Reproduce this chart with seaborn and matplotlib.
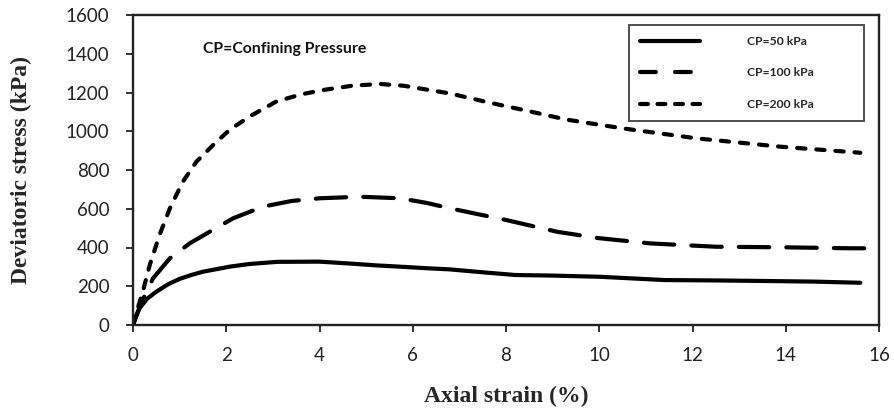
import matplotlib
matplotlib.use("Agg")
import matplotlib.pyplot as plt
from matplotlib.lines import Line2D
import seaborn as sns
import pandas as pd

# ---- data ----
strain_50 = [0, 0.05, 0.14, 0.3, 0.5, 0.75, 1.0, 1.25, 1.5, 2.07, 2.5, 3.1, 4.0, 4.6, 5.2, 5.73, 6.3, 6.8, 7.5, 8.2, 9.0, 10.0, 11.4, 12.5, 13.6, 14.6, 15.6]
stress_50 = [0, 38, 86, 135, 172, 210, 238, 258, 275, 301, 315, 326, 327, 318, 308, 301, 293, 287, 272, 258, 255, 249, 232, 230, 227, 224, 218]

strain_100 = [0, 0.1, 0.22, 0.43, 0.79, 1.22, 1.65, 2.15, 2.79, 3.4, 4.0, 4.87, 5.73, 6.3, 6.8, 7.4, 8.0, 9.1, 10.0, 11.1, 12.5, 13.95, 15.4, 15.8]
stress_100 = [0, 65, 135, 241, 344, 422, 482, 551, 611, 640, 654, 662, 654, 630, 602, 572, 542, 481, 448, 421, 404, 401, 396, 396]

strain_200 = [0, 0.1, 0.21, 0.36, 0.57, 0.79, 1.07, 1.36, 1.72, 2.07, 2.5, 3.07, 3.6, 4.08, 4.7, 5.3, 5.8, 6.3, 6.8, 7.6, 8.37, 9.3, 10.5, 12.1, 13.9, 15.6]
stress_200 = [0, 85, 172, 310, 465, 602, 740, 843, 929, 1007, 1076, 1153, 1190, 1213, 1235, 1244, 1235, 1215, 1195, 1150, 1110, 1060, 1015, 963, 920, 889]

labels = ["CP=50 kPa", "CP=100 kPa", "CP=200 kPa"]
x_ticks = [0, 2, 4, 6, 8, 10, 12, 14, 16]
y_ticks = [0, 200, 400, 600, 800, 1000, 1200, 1400, 1600]

df = pd.concat([
    pd.DataFrame({"strain": strain_50, "stress": stress_50, "CP": labels[0]}),
    pd.DataFrame({"strain": strain_100, "stress": stress_100, "CP": labels[1]}),
    pd.DataFrame({"strain": strain_200, "stress": stress_200, "CP": labels[2]}),
], ignore_index=True)

sns.set_theme(style="white")
plt.rcParams["font.family"] = ["Lato", "DejaVu Sans"]

fig = plt.figure(figsize=(8.94, 4.08), dpi=100)
ax = fig.add_axes([133 / 894, 83 / 408, (879 - 133) / 894, (325 - 15) / 408])

LW = 3.0
dashes = {labels[0]: "", labels[1]: (7.3, 4.1), labels[2]: (2.0, 2.6)}
sns.lineplot(data=df, x="strain", y="stress", style="CP", dashes=dashes,
             color="black", linewidth=LW, sort=False, estimator=None,
             ax=ax, legend=False)
for ln in ax.get_lines():
    ln.set_dash_capstyle("round")
    ln.set_solid_capstyle("round")
    ln.set_solid_joinstyle("round")
    ln.set_dash_joinstyle("round")

ax.set_xlim(0, 16)
ax.set_ylim(0, 1600)
ax.set_xticks(x_ticks)
ax.set_yticks(y_ticks)
ax.tick_params(axis="both", direction="out", length=5, width=1.3, color="#222222",
               labelsize=13.5, labelcolor="#222222", bottom=True, left=True)
ax.tick_params(axis="y", pad=12)
ax.tick_params(axis="x", pad=11)
for s in ax.spines.values():
    s.set_color("#222222")
    s.set_linewidth(1.7)

ax.set_xlabel("Axial strain (%)", fontsize=17, fontweight="bold",
              family="Liberation Serif")
ax.set_ylabel("Deviatoric stress (kPa)", fontsize=17, fontweight="bold",
              family="Liberation Serif")
ax.xaxis.set_label_coords(0.5, (325 - 386) / 310)
ax.yaxis.set_label_coords((32 - 133) / 746, 0.5)

ax.text((203 - 133) / 746, (325 - 49) / 310, "CP=Confining Pressure",
        transform=ax.transAxes, fontsize=11.3, fontweight="bold",
        va="center", ha="left", color="#111111")

proxy = [
    Line2D([], [], color="black", lw=LW, solid_capstyle="round"),
    Line2D([], [], color="black", lw=LW, dashes=(3.8, 4.6), dash_capstyle="round"),
    Line2D([], [], color="black", lw=LW, dashes=(1.9, 2.3), dash_capstyle="round"),
]
leg = ax.legend(proxy, labels, loc="upper left",
                bbox_to_anchor=((623 - 133) / 746, (325 - 22) / 310, (870 - 623) / 746, 0.01),
                mode="expand", handlelength=5.0, handletextpad=3.9,
                labelspacing=1.7, borderpad=0.9, frameon=True, fancybox=False,
                prop={"weight": "bold", "size": 8.7})
leg.get_frame().set_edgecolor("#222222")
leg.get_frame().set_linewidth(1.4)

fig.savefig("out.png", dpi=100)
